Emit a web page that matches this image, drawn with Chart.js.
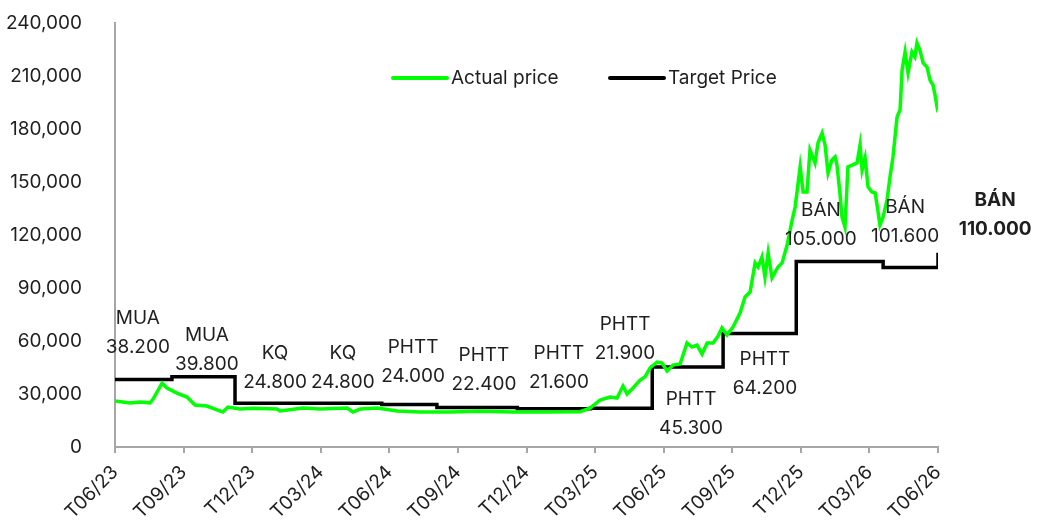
<!DOCTYPE html>
<html>
<head>
<meta charset="utf-8">
<script src="https://cdn.jsdelivr.net/npm/chart.js@4"></script>
<style>
  html, body { margin: 0; padding: 0; background: #fff; }
</style>
</head>
<body>
<canvas id="priceChart" width="1038" height="524"></canvas>
<script>
// Quarter labels, one every 3 months starting Jun 2023
const tickLabels = ['T06/23', 'T09/23', 'T12/23', 'T03/24', 'T06/24', 'T09/24', 'T12/24',
    'T03/25', 'T06/25', 'T09/25', 'T12/25', 'T03/26', 'T06/26'];

// Actual price (month offset from Jun 2023)
const priceMonths = [0.00, 0.66, 1.09, 1.53, 1.66, 2.06, 2.27, 2.71, 3.15, 3.50, 4.02, 4.46, 4.72, 4.94,
    5.47, 6.04, 7.09, 7.22, 8.22, 8.97, 10.15, 10.41, 10.72, 11.46, 12.34, 13.34, 14.65, 15.97,
    17.41, 18.90, 20.34, 20.78, 21.22, 21.65, 21.96, 22.22, 22.40, 22.66, 22.97, 23.18, 23.40,
    23.71, 23.93, 24.15, 24.41, 24.72, 25.02, 25.24, 25.46, 25.68, 25.90, 26.16, 26.38, 26.55,
    26.77, 27.03, 27.34, 27.56, 27.78, 28.00, 28.13, 28.30, 28.43, 28.57, 28.74, 29.00, 29.18,
    29.40, 29.62, 29.75, 29.97, 30.10, 30.27, 30.40, 30.62, 30.75, 30.93, 31.06, 31.19, 31.36,
    31.50, 31.58, 31.71, 31.80, 31.93, 32.06, 32.46, 32.59, 32.68, 32.81, 32.94, 33.11, 33.25,
    33.38, 33.46, 33.60, 33.77, 33.90, 34.03, 34.21, 34.34, 34.43, 34.56, 34.69, 34.86, 34.99,
    35.08, 35.21, 35.35, 35.52, 35.65, 35.78, 35.87, 35.96, 36.05];
const actualPrice = [26000, 24900, 25500, 25000, 27000, 36200, 33400, 30500, 28300, 23800, 23200, 21000, 19800, 22600,
    21500, 22000, 21500, 20400, 22100, 21500, 22100, 19800, 21500, 22100, 20400, 19800, 19800, 20200,
    19800, 19800, 20000, 22000, 26600, 28300, 27700, 34500, 30000, 33400, 37900, 39600, 44700,
    48100, 47500, 43000, 46400, 47000, 58900, 56600, 57700, 52600, 58900, 58900, 62800, 67400,
    63400, 67900, 75800, 84900, 87700, 104200, 101900, 107500, 96200, 109800, 95700, 101900, 104200,
    114300, 128500, 135800, 158500, 144300, 144300, 168100, 160800, 172100, 177700, 170900, 155100, 162500,
    164200, 159600, 143800, 130200, 124500, 158500, 160800, 170900, 156800, 163600, 147200, 144300, 143800,
    133000, 125700, 130200, 139800, 152800, 164200, 186800, 190800, 213400, 223600, 211700, 223600, 220800,
    228700, 224700, 217400, 215100, 207700, 204900, 199200, 192500, 195300];

// Target price changes (held until the next change)
const targetMonths = [0, 2.49, 5.25, 11.67, 14.08, 17.6, 20.8, 23.5, 26.6, 29.8, 33.6, 36];
const targetPrice = [38200, 39800, 24800, 24000, 22400, 21600, 21900, 45300, 64200, 105000, 101600, 110000];

// Recommendation call-outs
const callTags = ['MUA', 'MUA', 'KQ', 'KQ', 'PHTT', 'PHTT', 'PHTT', 'PHTT', 'PHTT', 'PHTT', 'BÁN', 'BÁN', 'BÁN'];
const callPrices = ['38.200', '39.800', '24.800', '24.800', '24.000', '22.400', '21.600', '21.900',
    '45.300', '64.200', '105.000', '101.600', '110.000'];

// where each call-out sits (month, value of its first line)
const calloutAt = [[1.0, 73000], [4.02, 63400], [7.0, 53200], [9.97, 53200], [13.04, 56600],
    [16.14, 52100], [19.42, 53200], [22.31, 69600], [25.2, 27200], [28.43, 49800],
    [30.88, 134100], [34.56, 135800], [38.5, 139800]];

const FONT = 'Inter, "Noto Sans", sans-serif';
const TEXT = '#1f1f1f';
const AXIS = '#a6a6a6';

const calloutPlugin = {
    id: 'callouts',
    afterDatasetsDraw(chart) {
        const { ctx, scales: { x, y } } = chart;
        ctx.save();
        ctx.fillStyle = TEXT;
        ctx.textAlign = 'center';
        ctx.textBaseline = 'middle';
        callTags.forEach((tag, i) => {
            const px = x.getPixelForValue(calloutAt[i][0]);
            const py = y.getPixelForValue(calloutAt[i][1]);
            const bold = i === callTags.length - 1;
            ctx.font = (bold ? 'bold ' : '') + '19px ' + FONT;
            ctx.fillText(tag, px, py);
            ctx.fillText(callPrices[i], px, py + 29);
        });
        ctx.restore();
    }
};

const legendPlugin = {
    id: 'insideLegend',
    afterDraw(chart) {
        const { ctx } = chart;
        const starts = [393, 610];
        ctx.save();
        ctx.font = '19px ' + FONT;
        ctx.textBaseline = 'middle';
        ctx.textAlign = 'left';
        chart.data.datasets.forEach((ds, i) => {
            const lx = starts[i];
            ctx.strokeStyle = ds.borderColor;
            ctx.lineWidth = 4;
            ctx.lineCap = 'round';
            ctx.beginPath();
            ctx.moveTo(lx, 78);
            ctx.lineTo(lx + 54, 78);
            ctx.stroke();
            ctx.fillStyle = TEXT;
            ctx.fillText(ds.label, lx + 58, 78);
        });
        ctx.restore();
    }
};

new Chart(document.getElementById('priceChart'), {
    type: 'line',
    data: {
        datasets: [{
            label: 'Actual price',
            data: priceMonths.map((m, i) => ({ x: m, y: actualPrice[i] })),
            borderColor: '#00ff00',
            borderWidth: 3.5,
            pointRadius: 0,
            tension: 0
        }, {
            label: 'Target Price',
            data: targetMonths.map((m, i) => ({ x: m, y: targetPrice[i] })),
            borderColor: '#000000',
            borderWidth: 3.5,
            pointRadius: 0,
            stepped: 'before'
        }]
    },
    options: {
        responsive: false,
        animation: false,
        devicePixelRatio: 1,
        layout: { padding: { top: 23, right: 100, left: 0, bottom: 0 } },
        plugins: {
            legend: { display: false },
            tooltip: { enabled: false }
        },
        scales: {
            x: {
                type: 'linear',
                min: 0,
                max: 36,
                afterFit: (s) => { s.height = 77; },
                afterBuildTicks: (s) => { s.ticks = tickLabels.map((_, i) => ({ value: i * 3 })); },
                ticks: {
                    callback: (v) => tickLabels[Math.round(v / 3)],
                    minRotation: 45,
                    maxRotation: 45,
                    autoSkip: false,
                    color: TEXT,
                    font: { family: FONT, size: 19 },
                    padding: 8
                },
                grid: { drawOnChartArea: false, drawTicks: true, tickLength: 6, color: AXIS, lineWidth: 2 },
                border: { color: AXIS, width: 2 }
            },
            y: {
                min: 0,
                max: 240000,
                afterFit: (s) => { s.width = 115; s.paddingTop = 0; s.paddingBottom = 0; },
                ticks: {
                    stepSize: 30000,
                    callback: (v) => v.toLocaleString('en-US'),
                    color: TEXT,
                    font: { family: FONT, size: 19 },
                    padding: 25
                },
                grid: { display: false },
                border: { display: true, color: AXIS, width: 2 }
            }
        }
    },
    plugins: [calloutPlugin, legendPlugin]
});
</script>
</body>
</html>
